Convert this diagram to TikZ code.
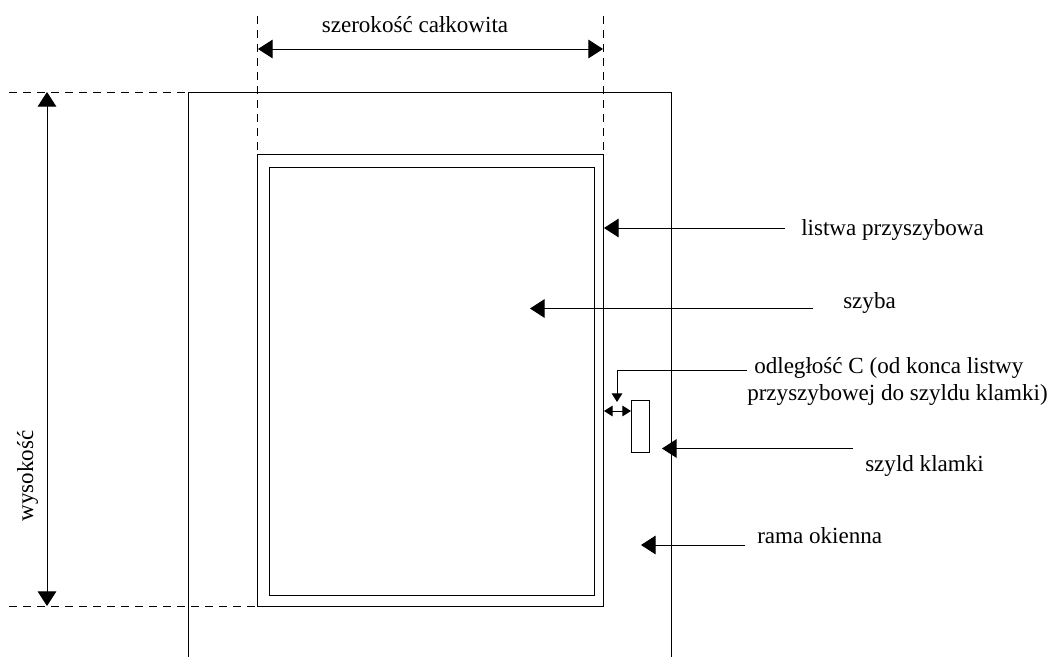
\documentclass[tikz,border=0pt]{standalone}
\usepackage{fontspec}
\setmainfont{Liberation Serif}
\usetikzlibrary{arrows.meta}
\tikzset{
    line/.style={line width=0.75pt},
    guide/.style={line width=0.75pt, dash pattern=on 6pt off 4.5pt},
    bigarrow/.style={line width=0.75pt, -{Triangle[length=11pt,width=14pt]}},
    bothways/.style={line width=0.75pt, {Triangle[length=11pt,width=14pt]}-{Triangle[length=11pt,width=14pt]}},
    smallways/.style={line width=0.75pt, {Triangle[length=6.5pt,width=8pt]}-{Triangle[length=6.5pt,width=8pt]}},
    smallarrow/.style={line width=0.75pt, -{Triangle[length=6.5pt,width=8pt]}},
    label/.style={inner sep=0pt, font=\fontsize{17.3}{20}\selectfont}
}
\begin{document}
\begin{tikzpicture}[x=0.75pt,y=-0.75pt]
    \useasboundingbox (0,0) rectangle (1054,657);

    % rama
    \draw[line] (188,657) -- (188,92) -- (671,92) -- (671,657);

    % listwa i szyba
    \def\listwa{(257,154) rectangle (603,606)}
    \def\szyba{(269,167) rectangle (594,595)}
    \draw[line] \listwa;
    \draw[line] \szyba;

    % szyld
    \node[draw, line width=0.75pt, minimum width=13.5pt, minimum height=39pt, inner sep=0pt, anchor=north west] (plate) at (631,400) {};

    % pomocnicze
    \coordinate (dimLeftTop) at (257.5,16);
    \coordinate (dimLeftBot) at (257.5,154);
    \coordinate (dimRightTop) at (603,16);
    \coordinate (dimRightBot) at (603,154);
    \coordinate (heightTopA) at (9,92);
    \coordinate (heightTopB) at (188,92);
    \coordinate (heightBotA) at (9,606);
    \coordinate (heightBotB) at (257,606);
    \draw[guide] (dimLeftTop) -- (dimLeftBot);
    \draw[guide] (dimRightTop) -- (dimRightBot);
    \draw[guide] (heightTopA) -- (heightTopB);
    \draw[guide] (heightBotA) -- (heightBotB);

    % wymiary
    \coordinate (widthA) at (258,49);
    \coordinate (widthB) at (603,49);
    \coordinate (heightA) at (47,92);
    \coordinate (heightB) at (47,606);
    \draw[bothways] (widthA) -- (widthB);
    \draw[bothways] (heightA) -- (heightB);
    \node[label, anchor=base] (width) at (415,32) {szerokość całkowita};
    \node[label, anchor=base, rotate=90] (height) at (33,476) {wysokość};

    % opisy
    \node[label, anchor=base west] (strip) at (801,235) {listwa przyszybowa};
    \node[label, anchor=base west] (glass) at (843,308) {szyba};
    \node[label, anchor=base west] (gapA) at (754,373) {odległość C (od konca listwy};
    \node[label, anchor=base west] (gapB) at (747,400) {przyszybowej do szyldu klamki)};
    \node[label, anchor=base west] (shield) at (865,471) {szyld klamki};
    \node[label, anchor=base west] (frame) at (757,543) {rama okienna};

    \coordinate (stripEnd) at (785,228);
    \coordinate (stripTip) at (604,228);
    \coordinate (glassEnd) at (813,308.5);
    \coordinate (glassTip) at (530,308.5);
    \coordinate (frameEnd) at (745,545);
    \coordinate (frameTip) at (641,545);
    \coordinate (shieldEnd) at (853,448.5);
    \coordinate (shieldTip) at (662,448.5);
    \coordinate (gapEnd) at (747,370);
    \coordinate (gapTip) at (617,402);
    \coordinate (cLeft) at (604,411);

    \draw[bigarrow] (stripEnd) -- (stripTip);
    \draw[bigarrow] (glassEnd) -- (glassTip);
    \draw[bigarrow] (frameEnd) -- (frameTip);
    \draw[bigarrow] (shieldEnd) -- (shieldTip);
    \draw[smallarrow] (gapEnd) -| (gapTip);
    \draw[smallways] (cLeft) -- (cLeft -| plate.west);
\end{tikzpicture}
\end{document}
